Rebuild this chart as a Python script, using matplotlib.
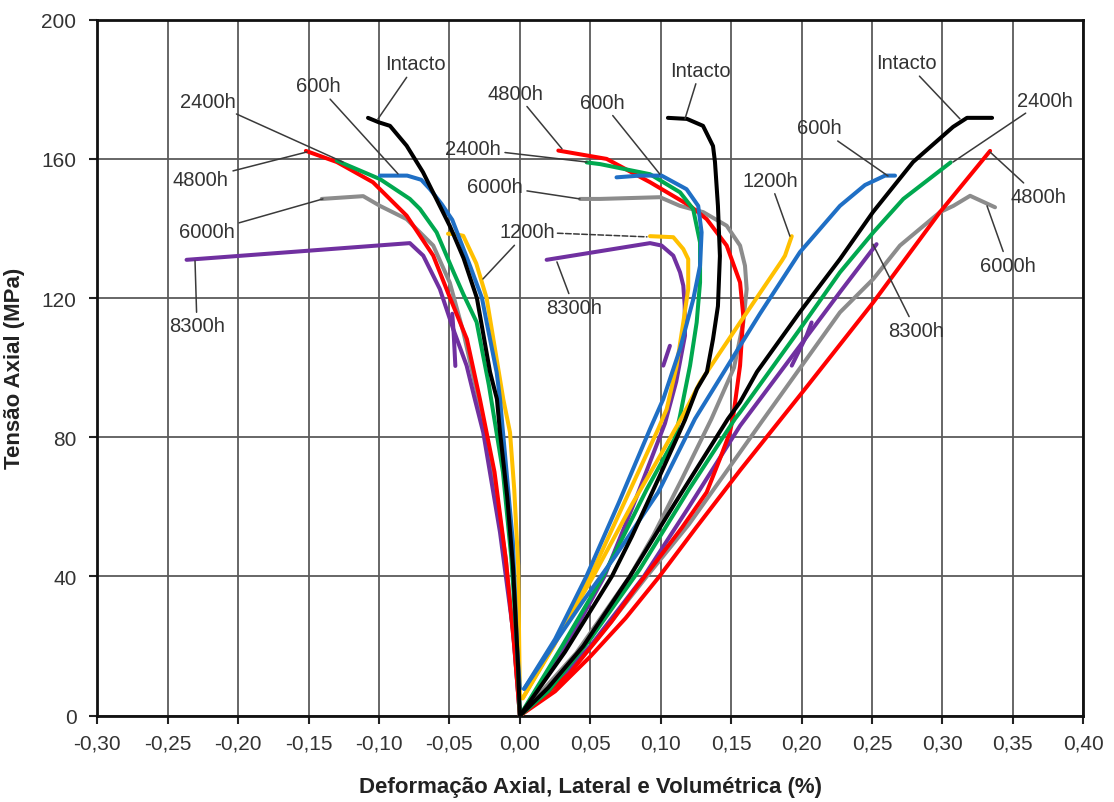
import matplotlib
matplotlib.use('Agg')
import matplotlib.pyplot as plt

plt.rcParams['font.family'] = ['Liberation Sans', 'DejaVu Sans']

# ---------------- data ----------------
x_ticks = [-0.30, -0.25, -0.20, -0.15, -0.10, -0.05, 0.00, 0.05, 0.10, 0.15, 0.20, 0.25, 0.30, 0.35, 0.40]
y_ticks = [0, 40, 80, 120, 160, 200]

# Intacto
int_lat_x = [0.0, -0.0013, -0.0049, -0.0090, -0.0141, -0.0163, -0.0212, -0.0305, -0.0400, -0.0497, -0.0593, -0.0688, -0.0804, -0.0922, -0.1000, -0.1078]
int_lat_y = [0.0, 14.3, 43.0, 63.0, 81.5, 91.0, 98.8, 120.0, 131.5, 140.7, 148.5, 156.2, 163.8, 169.5, 170.5, 171.8]
int_vol_x = [0.0, 0.0320, 0.0654, 0.0796, 0.0994, 0.1100, 0.1172, 0.1257, 0.1328, 0.1371, 0.1406, 0.1420, 0.1406, 0.1385, 0.1371, 0.1300, 0.1186, 0.1051]
int_vol_y = [0.0, 18.3, 40.1, 51.6, 69.0, 78.5, 85.0, 93.9, 98.8, 108.2, 117.7, 132.1, 146.5, 159.1, 163.7, 169.5, 171.5, 171.8]
int_ax_x = [0.0, 0.020, 0.045, 0.078, 0.110, 0.1477, 0.1563, 0.1683, 0.1988, 0.2272, 0.2506, 0.2791, 0.3075, 0.3174, 0.3352]
int_ax_y = [0.0, 8.0, 20.0, 40.0, 61.0, 85.3, 90.1, 98.8, 116.0, 131.2, 144.7, 159.1, 169.2, 171.8, 171.8]

# 600h
h600_lat_x = [0.0, -0.002, -0.005, -0.0141, -0.0165, -0.0236, -0.0269, -0.0354, -0.048, -0.0555, -0.0638, -0.070, -0.080, -0.0993]
h600_lat_y = [7.7, 20.0, 50.0, 91.0, 98.7, 113.1, 120.0, 129.3, 142.5, 147.0, 151.3, 154.0, 155.2, 155.2]
h600_vol_x = [0.003, 0.025, 0.0474, 0.070, 0.0924, 0.1018, 0.1137, 0.1231, 0.1279, 0.1290, 0.1266, 0.1183, 0.1006, 0.0850, 0.0686]
h600_vol_y = [7.7, 22.0, 40.2, 61.0, 82.4, 91.0, 105.4, 119.7, 129.3, 138.9, 146.5, 151.3, 155.2, 155.2, 154.7]
h600_ax_x = [0.003, 0.025, 0.045, 0.068, 0.0982, 0.1243, 0.1563, 0.1704, 0.1988, 0.2272, 0.2450, 0.2592, 0.2663]
h600_ax_y = [7.7, 21.0, 33.0, 46.0, 64.2, 85.3, 106.3, 115.5, 133.2, 146.5, 152.5, 155.2, 155.2]

# 1200h
h1200_lat_x = [0.0, -0.0012, -0.004, -0.007, -0.0118, -0.0236, -0.031, -0.0402, -0.046, -0.051]
h1200_lat_y = [5.0, 43.1, 65.0, 81.4, 91.0, 120.0, 130.0, 137.9, 138.4, 138.5]
h1200_vol_x = [0.002, 0.024, 0.050, 0.075, 0.0982, 0.1042, 0.1113, 0.1160, 0.1195, 0.1195, 0.1160, 0.1089, 0.0924]
h1200_vol_y = [5.0, 20.0, 40.0, 62.0, 82.4, 88.1, 100.6, 113.0, 122.6, 131.2, 134.1, 137.5, 137.8]
h1200_ax_x = [0.002, 0.025, 0.052, 0.080, 0.100, 0.116, 0.1279, 0.1563, 0.1859, 0.1882, 0.1930]
h1200_ax_y = [5.0, 21.0, 40.0, 61.0, 75.0, 86.5, 95.8, 113.0, 130.7, 132.2, 137.8]

# 2400h
h2400_lat_x = [0.0, -0.002, -0.006, -0.012, -0.022, -0.0307, -0.040, -0.047, -0.0591, -0.0709, -0.0781, -0.0993, -0.1300]
h2400_lat_y = [0.0, 20.0, 45.0, 70.0, 95.0, 113.1, 121.0, 127.4, 138.9, 145.6, 148.5, 154.2, 159.5]
h2400_vol_x = [0.0, 0.030, 0.059, 0.074, 0.090, 0.1101, 0.1137, 0.1208, 0.1255, 0.1279, 0.1279, 0.1230, 0.1137, 0.0924, 0.0570, 0.0474]
h2400_vol_y = [0.0, 20.0, 40.0, 52.0, 65.0, 79.8, 86.2, 100.6, 113.0, 124.5, 136.0, 145.6, 150.4, 155.6, 158.5, 159.0]
h2400_ax_x = [0.0, 0.020, 0.050, 0.085, 0.120, 0.1527, 0.1563, 0.1988, 0.2272, 0.2509, 0.2722, 0.3058]
h2400_ax_y = [0.0, 7.0, 22.0, 42.0, 65.0, 85.3, 87.2, 111.1, 127.4, 138.9, 148.5, 159.0]

# 4800h
h4800_lat_x = [0.0, -0.004, -0.010, -0.018, -0.0284, -0.0376, -0.0508, -0.0615, -0.0804, -0.1043, -0.1299, -0.1519]
h4800_lat_y = [0.0, 20.0, 45.0, 70.0, 91.0, 108.2, 121.3, 132.2, 143.7, 153.3, 159.1, 162.3]
h4800_vol_x = [0.0, 0.035, 0.065, 0.081, 0.1000, 0.1150, 0.1326, 0.1420, 0.1491, 0.1515, 0.1563, 0.1586, 0.1563, 0.1468, 0.1326, 0.1208, 0.0924, 0.0616, 0.0273]
h4800_vol_y = [0.0, 12.0, 27.0, 36.0, 46.0, 54.0, 64.2, 73.8, 81.4, 86.2, 100.6, 114.9, 124.5, 135.1, 142.7, 146.5, 153.3, 160.0, 162.4]
h4800_ax_x = [0.0, 0.025, 0.050, 0.075, 0.099, 0.125, 0.1563, 0.2038, 0.2509, 0.2982, 0.3338]
h4800_ax_y = [0.0, 7.0, 17.0, 28.0, 40.0, 54.0, 70.5, 94.6, 118.8, 144.7, 162.3]

# 6000h
h6000_lat_x = [0.0, -0.004, -0.010, -0.019, -0.030, -0.040, -0.0497, -0.0615, -0.0804, -0.0993, -0.1112, -0.1407]
h6000_lat_y = [0.0, 20.0, 45.0, 70.0, 92.0, 110.0, 124.4, 135.1, 142.7, 146.5, 149.3, 148.5]
h6000_vol_x = [0.0, 0.040, 0.078, 0.095, 0.115, 0.1360, 0.1520, 0.1586, 0.1610, 0.1598, 0.1563, 0.1468, 0.1302, 0.1137, 0.0994, 0.0569, 0.0427]
h6000_vol_y = [0.0, 18.0, 40.0, 52.0, 68.0, 85.3, 100.0, 113.0, 122.6, 129.3, 135.1, 140.8, 144.7, 146.5, 149.0, 148.5, 148.5]
h6000_ax_x = [0.0, 0.025, 0.055, 0.090, 0.120, 0.1563, 0.1717, 0.2272, 0.2509, 0.2698, 0.2982, 0.3077, 0.3196, 0.3373]
h6000_ax_y = [0.0, 8.0, 22.0, 40.0, 55.0, 75.7, 84.5, 115.9, 125.5, 135.1, 144.7, 146.5, 149.4, 146.1]

# 8300h
h8300_lat_x = [0.0, -0.0047, -0.0141, -0.026, -0.032, -0.0378, -0.0473, -0.0568, -0.0686, -0.0781, -0.2366]
h8300_lat_y = [0.0, 24.0, 52.7, 81.4, 91.0, 100.6, 111.1, 122.6, 132.2, 135.8, 131.0]
h8300_lat_hook_x = [-0.0458, -0.0470, -0.0480]
h8300_lat_hook_y = [100.5, 110.0, 115.5]
h8300_vol_x = [0.0, 0.030, 0.060, 0.082, 0.103, 0.111, 0.1172, 0.1170, 0.1160, 0.1137, 0.1089, 0.1006, 0.0924, 0.0190]
h8300_vol_y = [0.0, 18.0, 40.0, 62.0, 84.0, 96.0, 109.2, 118.0, 123.6, 127.4, 132.2, 135.1, 135.8, 131.0]
h8300_vol_hook_x = [0.1018, 0.1065]
h8300_vol_hook_y = [100.6, 106.3]
h8300_ax_x = [0.0, 0.020, 0.050, 0.088, 0.120, 0.1563, 0.1988, 0.2272, 0.2532]
h8300_ax_y = [0.0, 7.0, 20.0, 40.0, 60.0, 83.3, 106.3, 121.7, 135.5]
h8300_ax_hook_x = [0.1930, 0.2035, 0.2071]
h8300_ax_hook_y = [100.6, 109.2, 113.0]

# ---------------- styling ----------------
C_INT = '#000000'
C_600 = '#1F6FC5'
C_1200 = '#FFC000'
C_2400 = '#00A84F'
C_4800 = '#FF0000'
C_6000 = '#8C8C8C'
C_8300 = '#7030A0'

curves = [
    (C_6000, [(h6000_lat_x, h6000_lat_y), (h6000_vol_x, h6000_vol_y), (h6000_ax_x, h6000_ax_y)]),
    (C_8300, [(h8300_lat_x, h8300_lat_y), (h8300_vol_x, h8300_vol_y), (h8300_ax_x, h8300_ax_y),
              (h8300_lat_hook_x, h8300_lat_hook_y), (h8300_vol_hook_x, h8300_vol_hook_y),
              (h8300_ax_hook_x, h8300_ax_hook_y)]),
    (C_4800, [(h4800_lat_x, h4800_lat_y), (h4800_vol_x, h4800_vol_y), (h4800_ax_x, h4800_ax_y)]),
    (C_2400, [(h2400_lat_x, h2400_lat_y), (h2400_vol_x, h2400_vol_y), (h2400_ax_x, h2400_ax_y)]),
    (C_1200, [(h1200_lat_x, h1200_lat_y), (h1200_vol_x, h1200_vol_y), (h1200_ax_x, h1200_ax_y)]),
    (C_600, [(h600_lat_x, h600_lat_y), (h600_vol_x, h600_vol_y), (h600_ax_x, h600_ax_y)]),
    (C_INT, [(int_lat_x, int_lat_y), (int_vol_x, int_vol_y), (int_ax_x, int_ax_y)]),
]

fig = plt.figure(figsize=(11.14, 8.03), dpi=100)
ax = fig.add_axes([0.0873, 0.1075, 0.8852, 0.8667])

for color, segs in curves:
    for xs, ys in segs:
        ax.plot(xs, ys, color=color, lw=2.9, solid_capstyle='round', solid_joinstyle='round', zorder=3)

ax.set_xlim(-0.30, 0.40)
ax.set_ylim(0, 200)
ax.set_xticks(x_ticks)
ax.set_yticks(y_ticks)


def fmt(v):
    s = f"{abs(v):.2f}".replace('.', ',')
    return ('-' + s) if v < -1e-9 else s


ax.set_xticklabels([fmt(v) for v in x_ticks])
ax.set_yticklabels([str(v) for v in y_ticks])
ax.tick_params(axis='both', direction='out', length=6, width=1.5, colors='#222222',
               labelsize=15, labelcolor='#333333')
ax.tick_params(axis='x', pad=7)
ax.tick_params(axis='y', pad=9)
ax.grid(True, color='#5a5a5a', lw=1.3, zorder=1)
ax.set_axisbelow(True)
for sp in ax.spines.values():
    sp.set_color('#111111')
    sp.set_linewidth(2.0)

ax.set_xlabel('Deformação Axial, Lateral e Volumétrica (%)', fontsize=16, fontweight='bold',
              color='#222222', labelpad=17)
ax.set_ylabel('Tensão Axial (MPa)', fontsize=16, fontweight='bold', color='#222222', labelpad=12)

# ---------------- labels with leader lines ----------------
annotations = [
    ('Intacto', (-0.1007, 171.5), (-0.0738, 187.3)),
    ('600h', (-0.0865, 155.7), (-0.1433, 181.0)),
    ('2400h', (-0.1256, 159.1), (-0.2214, 176.6)),
    ('4800h', (-0.1511, 162.0), (-0.2264, 154.2)),
    ('6000h', (-0.1398, 148.5), (-0.2221, 139.0)),
    ('8300h', (-0.2306, 130.7), (-0.2292, 112.0)),
    ('1200h', (-0.0262, 125.5), (0.005, 139.0)),
    ('4800h', (0.0299, 162.9), (-0.0028, 178.9)),
    ('600h', (0.0994, 155.6), (0.0583, 176.3)),
    ('Intacto', (0.1172, 171.5), (0.1279, 185.5)),
    ('2400h', (0.0476, 159.1), (-0.0333, 162.9)),
    ('6000h', (0.0427, 148.5), (-0.0177, 152.2)),
    ('8300h', (0.0263, 130.4), (0.0384, 117.4)),
    ('1200h', (0.1917, 137.8), (0.1775, 153.9)),
    ('Intacto', (0.3124, 171.5), (0.2747, 187.6)),
    ('2400h', (0.3075, 159.1), (0.3728, 176.9)),
    ('600h', (0.2613, 155.1), (0.2123, 168.9)),
    ('4800h', (0.3337, 162.0), (0.3678, 149.3)),
    ('6000h', (0.3316, 146.5), (0.3465, 129.5)),
    ('8300h', (0.2506, 135.5), (0.2811, 110.8)),
]
for txt, xy, xyt in annotations:
    ax.annotate(txt, xy=xy, xytext=xyt, textcoords='data', ha='center', va='center',
                fontsize=14.5, color='#333333', zorder=5,
                arrowprops=dict(arrowstyle='-', color='#3a3a3a', lw=1.1, shrinkA=1, shrinkB=0))
# second leader of the middle "1200h" label
ax.annotate('', xy=(0.0902, 137.6), xytext=(0.005, 139.0), textcoords='data',
            arrowprops=dict(arrowstyle='-', color='#3a3a3a', lw=1.1, linestyle='--',
                            shrinkA=22, shrinkB=0), zorder=5)

fig.savefig('out.png', dpi=100)
